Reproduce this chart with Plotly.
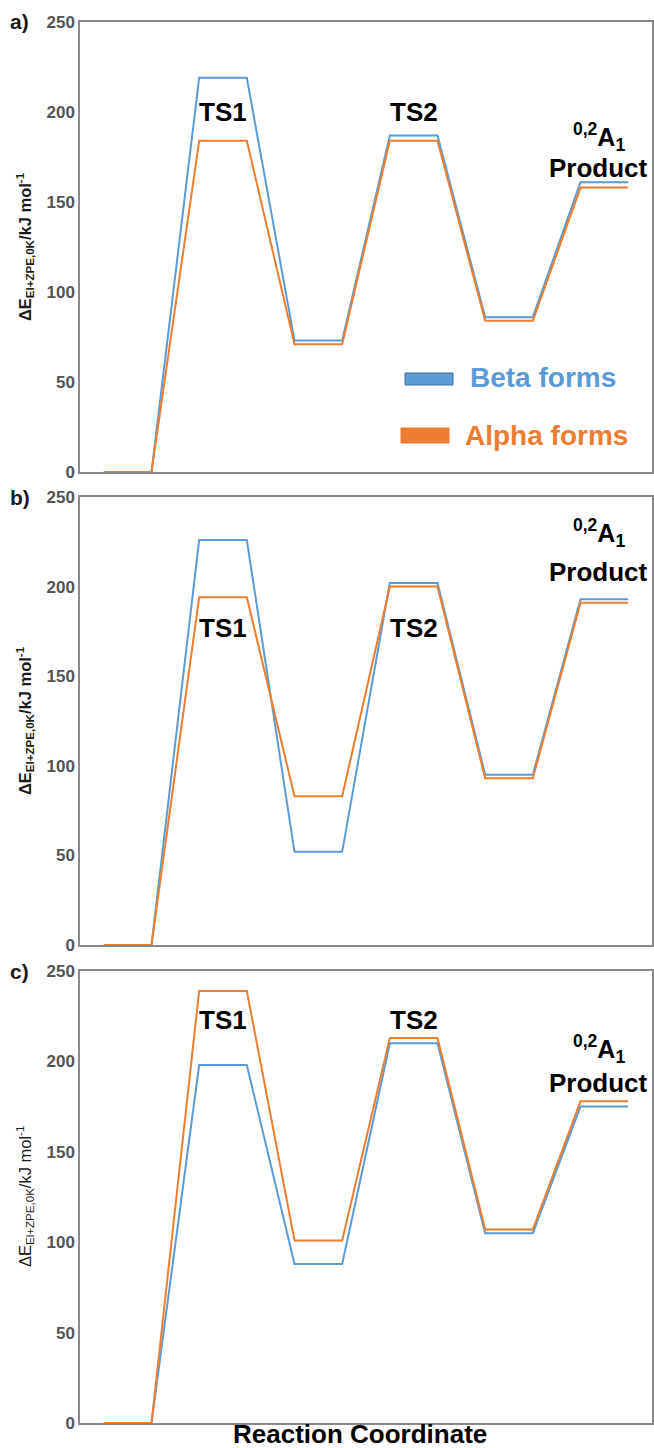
import plotly.graph_objects as go

# ---- data ----
stages = ["Reactant", "TS1", "Int1", "TS2", "Int2", "Product"]
beta_a = [0, 219, 73, 187, 86, 161]
alpha_a = [0, 184, 71, 184, 84, 158]
beta_b = [0, 226, 52, 202, 95, 193]
alpha_b = [0, 194, 83, 200, 93, 191]
beta_c = [0, 198, 88, 210, 105, 175]
alpha_c = [0, 239, 101, 213, 107, 178]
y_ticks = [0, 50, 100, 150, 200, 250]
panel_labels = ["a)", "b)", "c)"]
series_names = ["Beta forms", "Alpha forms"]

BLUE = "#5B9BD5"
ORANGE = "#ED7D31"
W, H = 654, 1448

def path(vals, half=0.25):
    xs, ys = [], []
    for i, v in enumerate(vals):
        xs += [i - half, i + half]
        ys += [v, v]
    return xs, ys

# panel pixel geometry (top, bottom)
panels_px = [(22, 472), (497, 945), (971, 1423)]
x_left, x_right = 80, 652

def py(p):
    return (H - p) / H

fig = go.Figure()
data = [(beta_a, alpha_a), (beta_b, alpha_b), (beta_c, alpha_c)]
for k, (b, a) in enumerate(data):
    suf = "" if k == 0 else str(k + 1)
    for vals, col in ((b, BLUE), (a, ORANGE)):
        xs, ys = path(vals)
        fig.add_trace(go.Scatter(x=xs, y=ys, mode="lines", cliponaxis=False,
                                 line=dict(color=col, width=2),
                                 xaxis="x" + suf, yaxis="y" + suf,
                                 showlegend=False, hoverinfo="skip"))

layout = dict(width=W, height=H, margin=dict(l=0, r=0, t=0, b=0, autoexpand=False),
              plot_bgcolor="white", paper_bgcolor="white",
              font=dict(family="Liberation Sans, Arial, sans-serif"))
for k, (top, bot) in enumerate(panels_px):
    suf = "" if k == 0 else str(k + 1)
    layout["xaxis" + suf] = dict(domain=[x_left / W, x_right / W], range=[-0.5, 5.5],
                                 showticklabels=False, ticks="", showgrid=False,
                                 zeroline=False, showline=True, mirror=True,
                                 linecolor="#8a8a8a", linewidth=1.5, automargin=False,
                                 layer="below traces", anchor="y" + suf)
    layout["yaxis" + suf] = dict(domain=[py(bot), py(top)], range=[0, 250],
                                 tickvals=y_ticks, ticktext=["<b>%d</b>" % t for t in y_ticks],
                                 tickfont=dict(size=17, color="#545454"),
                                 ticks="", showgrid=False, zeroline=False,
                                 showline=True, mirror=True, automargin=False,
                                 linecolor="#8a8a8a", linewidth=1.5,
                                 layer="below traces", anchor="x" + suf)
fig.update_layout(**layout)

ann = []
# panel letters and y titles
for k, (top, bot) in enumerate(panels_px):
    ann.append(dict(text="<b>%s</b>" % panel_labels[k], x=8 / W, y=py(top), xref="paper", yref="paper",
                    xanchor="left", yanchor="middle", showarrow=False,
                    font=dict(size=21, color="#1a1a1a")))
    title = "ΔE<sub>El+ZPE,0K</sub>/kJ mol<sup>-1</sup>"
    if k < 2:
        title = "<b>" + title + "</b>"
    ann.append(dict(text=title, x=25 / W, y=py((top + bot) / 2), xref="paper", yref="paper",
                    xanchor="center", yanchor="middle", textangle=-90, showarrow=False,
                    font=dict(size=16.5, color="#1a1a1a")))

# TS and product labels (data coords)
label_pos = [
    dict(ts=200, a1=186, prod=169),
    dict(ts=177, a1=230, prod=208),
    dict(ts=223, a1=207, prod=188),
]
for k, lp in enumerate(label_pos):
    suf = "" if k == 0 else str(k + 1)
    for name, xi in (("TS1", 1), ("TS2", 3)):
        ann.append(dict(text="<b>%s</b>" % name, x=xi, y=lp["ts"], xref="x" + suf, yref="y" + suf,
                        showarrow=False, font=dict(size=26, color="black")))
    ann.append(dict(text="<b><sup>0,2</sup>A<sub>1</sub></b>", x=4.94, y=lp["a1"],
                    xref="x" + suf, yref="y" + suf, showarrow=False,
                    font=dict(size=25, color="black")))
    ann.append(dict(text="<b>Product</b>", x=4.94, y=lp["prod"],
                    xref="x" + suf, yref="y" + suf, showarrow=False,
                    font=dict(size=26, color="black")))

# legend (panel a)
ann.append(dict(text="<b>%s</b>" % series_names[0], x=468 / W, y=py(378), xref="paper", yref="paper",
                xanchor="left", yanchor="middle", showarrow=False,
                font=dict(size=28, color=BLUE)))
ann.append(dict(text="<b>%s</b>" % series_names[1], x=463 / W, y=py(435), xref="paper", yref="paper",
                xanchor="left", yanchor="middle", showarrow=False,
                font=dict(size=28, color=ORANGE)))
# x title
ann.append(dict(text="<b>Reaction Coordinate</b>", x=360 / W, y=py(1434), xref="paper", yref="paper",
                xanchor="center", yanchor="middle", showarrow=False,
                font=dict(size=26, color="black")))
fig.update_layout(annotations=ann)

fig.add_shape(type="rect", xref="paper", yref="paper",
              x0=405 / W, x1=453 / W, y0=py(385), y1=py(373),
              fillcolor=BLUE, line=dict(color="#41719C", width=1))
fig.add_shape(type="rect", xref="paper", yref="paper",
              x0=401 / W, x1=449 / W, y0=py(443), y1=py(428),
              fillcolor=ORANGE, line=dict(color=ORANGE, width=1))

fig.write_html("out.html", config={"displayModeBar": False},
               post_script="document.body.style.margin='0';document.body.style.overflow='hidden';")
